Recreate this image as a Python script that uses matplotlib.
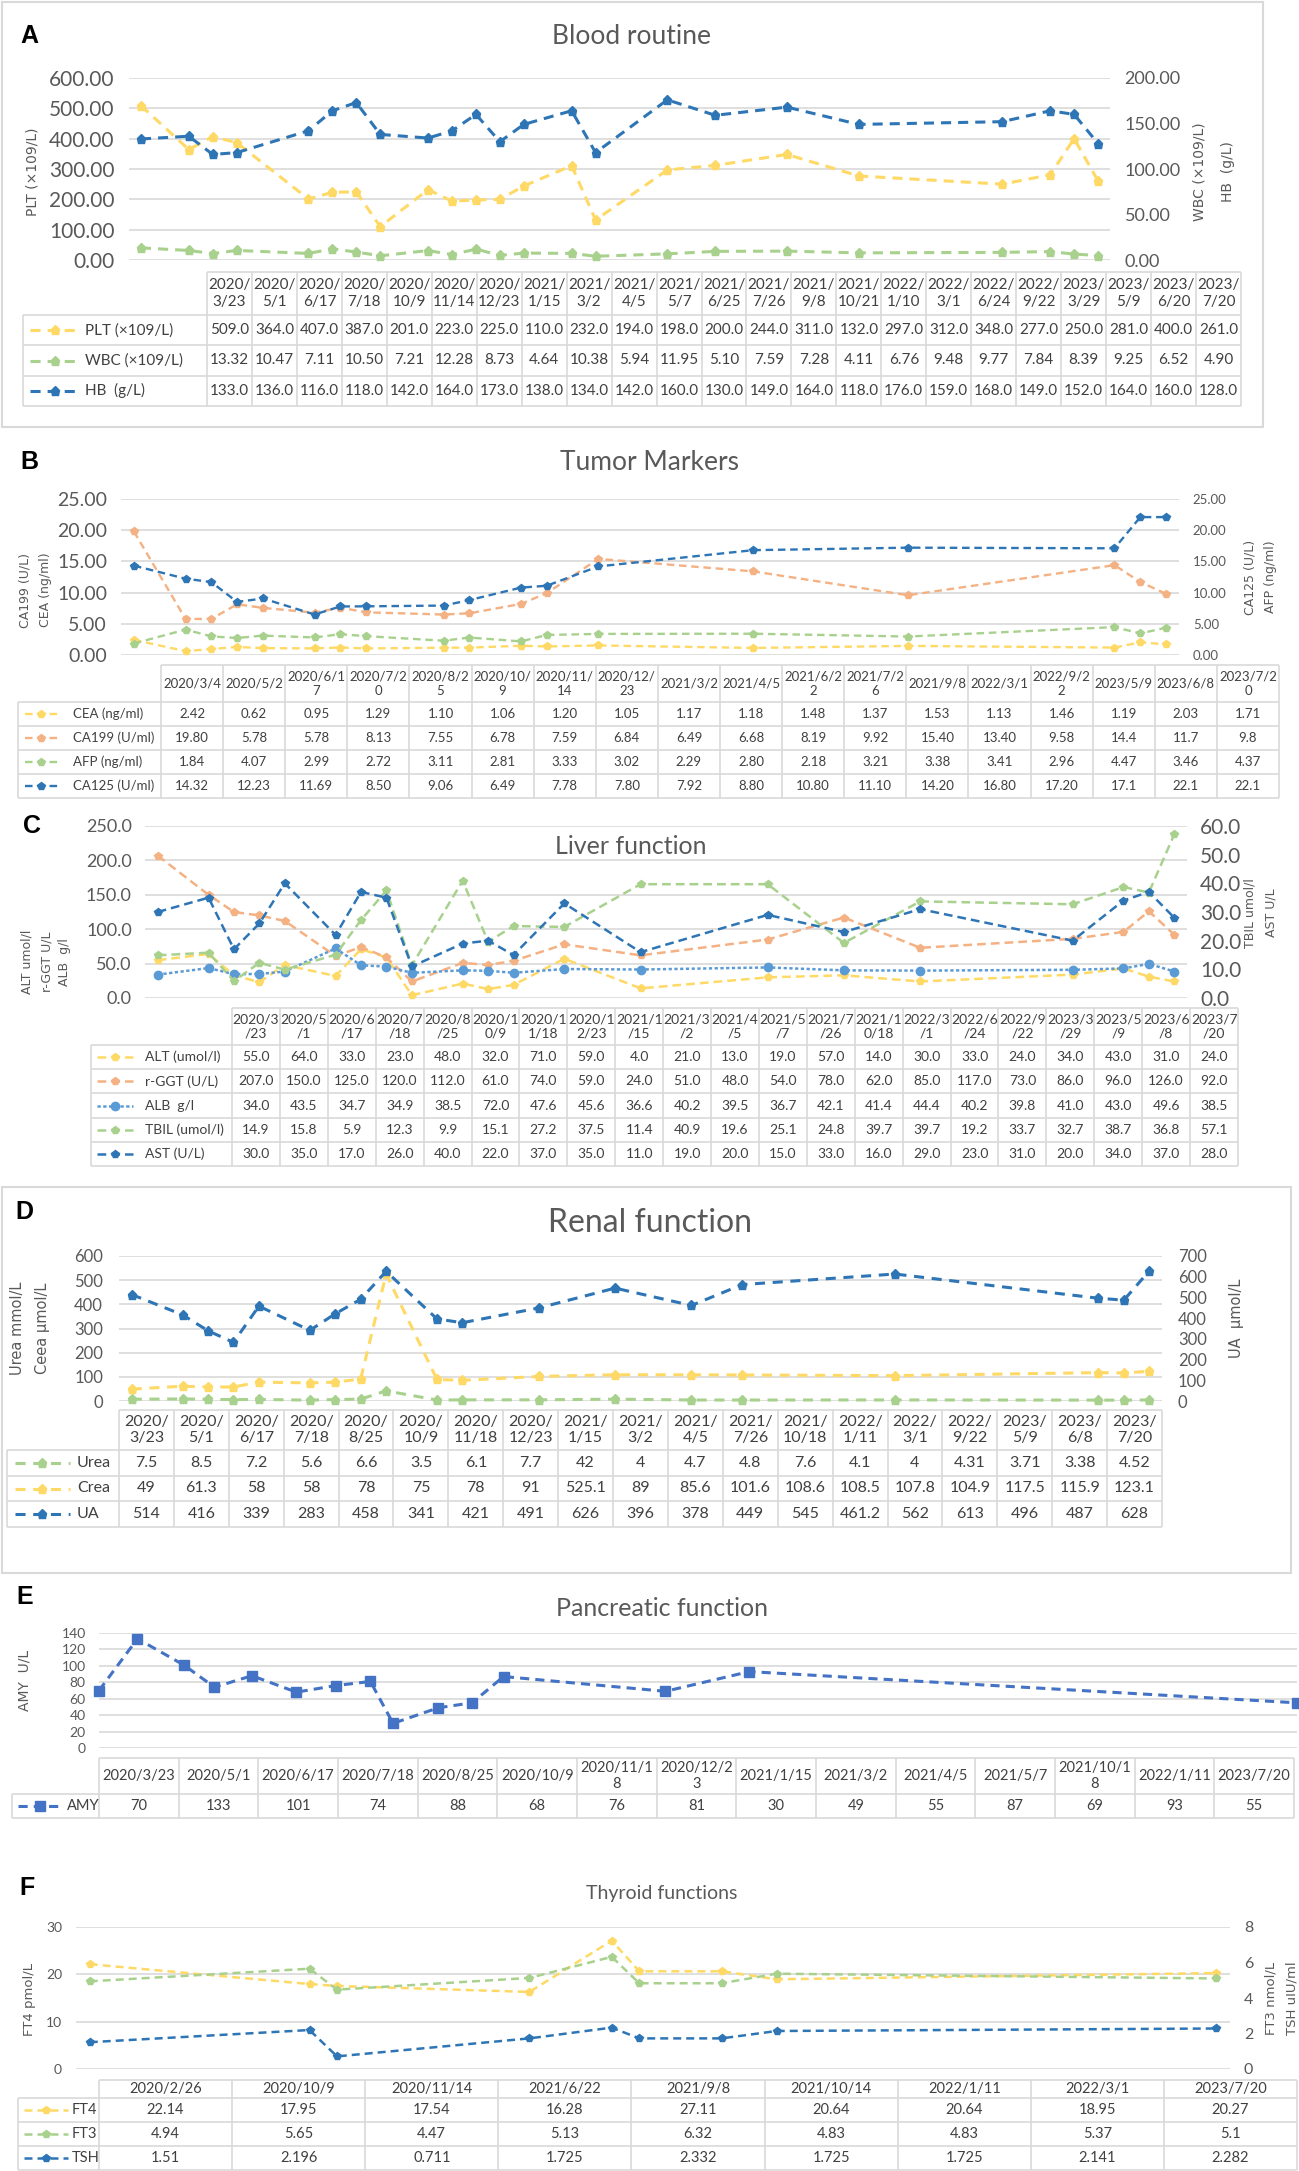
import numpy as np
import pandas as pd
import matplotlib
matplotlib.use("Agg")
import matplotlib.pyplot as plt
from matplotlib.ticker import FormatStrFormatter
from matplotlib.patches import Rectangle

plt.rcParams['font.family'] = ['Lato', 'DejaVu Sans']

# ---------------- data ----------------
# A  Blood routine
a_dates = ["2020/3/23", "2020/5/1", "2020/6/17", "2020/7/18", "2020/10/9", "2020/11/14",
           "2020/12/23", "2021/1/15", "2021/3/2", "2021/4/5", "2021/5/7", "2021/6/25",
           "2021/7/26", "2021/9/8", "2021/10/21", "2022/1/10", "2022/3/1", "2022/6/24",
           "2022/9/22", "2023/3/29", "2023/5/9", "2023/6/20", "2023/7/20"]
a_plt = ["509.0", "364.0", "407.0", "387.0", "201.0", "223.0", "225.0", "110.0", "232.0", "194.0",
         "198.0", "200.0", "244.0", "311.0", "132.0", "297.0", "312.0", "348.0", "277.0", "250.0",
         "281.0", "400.0", "261.0"]
a_wbc = ["13.32", "10.47", "7.11", "10.50", "7.21", "12.28", "8.73", "4.64", "10.38", "5.94",
         "11.95", "5.10", "7.59", "7.28", "4.11", "6.76", "9.48", "9.77", "7.84", "8.39",
         "9.25", "6.52", "4.90"]
a_hb = ["133.0", "136.0", "116.0", "118.0", "142.0", "164.0", "173.0", "138.0", "134.0", "142.0",
        "160.0", "130.0", "149.0", "164.0", "118.0", "176.0", "159.0", "168.0", "149.0", "152.0",
        "164.0", "160.0", "128.0"]

# B  Tumor markers
b_dates = ["2020/3/4", "2020/5/2", "2020/6/17", "2020/7/20", "2020/8/25", "2020/10/9",
           "2020/11/14", "2020/12/23", "2021/3/2", "2021/4/5", "2021/6/22", "2021/7/26",
           "2021/9/8", "2022/3/1", "2022/9/22", "2023/5/9", "2023/6/8", "2023/7/20"]
b_cea = ["2.42", "0.62", "0.95", "1.29", "1.10", "1.06", "1.20", "1.05", "1.17", "1.18",
         "1.48", "1.37", "1.53", "1.13", "1.46", "1.19", "2.03", "1.71"]
b_ca199 = ["19.80", "5.78", "5.78", "8.13", "7.55", "6.78", "7.59", "6.84", "6.49", "6.68",
           "8.19", "9.92", "15.40", "13.40", "9.58", "14.4", "11.7", "9.8"]
b_afp = ["1.84", "4.07", "2.99", "2.72", "3.11", "2.81", "3.33", "3.02", "2.29", "2.80",
         "2.18", "3.21", "3.38", "3.41", "2.96", "4.47", "3.46", "4.37"]
b_ca125 = ["14.32", "12.23", "11.69", "8.50", "9.06", "6.49", "7.78", "7.80", "7.92", "8.80",
           "10.80", "11.10", "14.20", "16.80", "17.20", "17.1", "22.1", "22.1"]

# C  Liver function
c_dates = ["2020/3/23", "2020/5/1", "2020/6/17", "2020/7/18", "2020/8/25", "2020/10/9",
           "2020/11/18", "2020/12/23", "2021/1/15", "2021/3/2", "2021/4/5", "2021/5/7",
           "2021/7/26", "2021/10/18", "2022/3/1", "2022/6/24", "2022/9/22", "2023/3/29",
           "2023/5/9", "2023/6/8", "2023/7/20"]
c_alt = ["55.0", "64.0", "33.0", "23.0", "48.0", "32.0", "71.0", "59.0", "4.0", "21.0", "13.0",
         "19.0", "57.0", "14.0", "30.0", "33.0", "24.0", "34.0", "43.0", "31.0", "24.0"]
c_ggt = ["207.0", "150.0", "125.0", "120.0", "112.0", "61.0", "74.0", "59.0", "24.0", "51.0",
         "48.0", "54.0", "78.0", "62.0", "85.0", "117.0", "73.0", "86.0", "96.0", "126.0", "92.0"]
c_alb = ["34.0", "43.5", "34.7", "34.9", "38.5", "72.0", "47.6", "45.6", "36.6", "40.2", "39.5",
         "36.7", "42.1", "41.4", "44.4", "40.2", "39.8", "41.0", "43.0", "49.6", "38.5"]
c_tbil = ["14.9", "15.8", "5.9", "12.3", "9.9", "15.1", "27.2", "37.5", "11.4", "40.9", "19.6",
          "25.1", "24.8", "39.7", "39.7", "19.2", "33.7", "32.7", "38.7", "36.8", "57.1"]
c_ast = ["30.0", "35.0", "17.0", "26.0", "40.0", "22.0", "37.0", "35.0", "11.0", "19.0", "20.0",
         "15.0", "33.0", "16.0", "29.0", "23.0", "31.0", "20.0", "34.0", "37.0", "28.0"]

# D  Renal function
d_dates = ["2020/3/23", "2020/5/1", "2020/6/17", "2020/7/18", "2020/8/25", "2020/10/9",
           "2020/11/18", "2020/12/23", "2021/1/15", "2021/3/2", "2021/4/5", "2021/7/26",
           "2021/10/18", "2022/1/11", "2022/3/1", "2022/9/22", "2023/5/9", "2023/6/8", "2023/7/20"]
d_urea = ["7.5", "8.5", "7.2", "5.6", "6.6", "3.5", "6.1", "7.7", "42", "4", "4.7", "4.8",
          "7.6", "4.1", "4", "4.31", "3.71", "3.38", "4.52"]
d_crea = ["49", "61.3", "58", "58", "78", "75", "78", "91", "525.1", "89", "85.6", "101.6",
          "108.6", "108.5", "107.8", "104.9", "117.5", "115.9", "123.1"]
d_ua = ["514", "416", "339", "283", "458", "341", "421", "491", "626", "396", "378", "449",
        "545", "461.2", "562", "613", "496", "487", "628"]

# E  Pancreatic function
e_dates = ["2020/3/23", "2020/5/1", "2020/6/17", "2020/7/18", "2020/8/25", "2020/10/9",
           "2020/11/18", "2020/12/23", "2021/1/15", "2021/3/2", "2021/4/5", "2021/5/7",
           "2021/10/18", "2022/1/11", "2023/7/20"]
e_amy = ["70", "133", "101", "74", "88", "68", "76", "81", "30", "49", "55", "87", "69", "93", "55"]

# F  Thyroid functions
f_dates = ["2020/2/26", "2020/10/9", "2020/11/14", "2021/6/22", "2021/9/8", "2021/10/14",
           "2022/1/11", "2022/3/1", "2023/7/20"]
f_ft4 = ["22.14", "17.95", "17.54", "16.28", "27.11", "20.64", "20.64", "18.95", "20.27"]
f_ft3 = ["4.94", "5.65", "4.47", "5.13", "6.32", "4.83", "4.83", "5.37", "5.1"]
f_tsh = ["1.51", "2.196", "0.711", "1.725", "2.332", "1.725", "1.725", "2.141", "2.282"]

# ---------------- styles ----------------
YEL, GRN, BLU, ORG, LBL, EBL = '#FFD966', '#A9D18E', '#2E75B6', '#F4B183', '#5B9BD5', '#4472C4'
GRID, TXT, TAB = '#d9d9d9', '#595959', '#404040'

W, H = 1299, 2171
fig = plt.figure(figsize=(W / 100, H / 100), dpi=100)
ov = fig.add_axes([0, 0, 1, 1])
ov.set_xlim(0, W)
ov.set_ylim(H, 0)
ov.axis('off')


def px_rect(x0, y0, x1, y1):
    return [x0 / W, 1 - y1 / H, (x1 - x0) / W, (y1 - y0) / H]


def month_pos(dates):
    d = pd.to_datetime(dates, format="%Y/%m/%d")
    return np.asarray(d.year * 12 + d.month, dtype=float)


def day_pos(dates):
    d = pd.to_datetime(dates, format="%Y/%m/%d")
    return np.asarray((d - d[0]).days, dtype=float)


def num(vals):
    return np.array(vals, dtype=float)


def wrap(s, n):
    return "\n".join(s[i:i + n] for i in range(0, len(s), n))


def setup_y(ax, top, step, fmt, fs, pad):
    ax.set_ylim(0, top)
    ax.set_yticks(np.arange(0, top + step / 2, step))
    ax.yaxis.set_major_formatter(FormatStrFormatter(fmt))
    ax.tick_params(axis='y', length=0, pad=pad, labelsize=fs, labelcolor=TXT)
    ax.set_xticks([])
    for s in ax.spines.values():
        s.set_visible(False)


def panel(box, xs, margin, left, right=None, fs=10):
    ax = fig.add_axes(px_rect(*box))
    ax.patch.set_visible(False)
    ax.set_xlim(xs[0] - margin, xs[-1] + margin)
    setup_y(ax, *left, fs)
    ax.grid(axis='y', color=GRID, lw=1.2)
    ax.set_axisbelow(True)
    ax2 = None
    if right is not None:
        ax2 = ax.twinx()
        ax2.patch.set_visible(False)
        setup_y(ax2, *right, fs)
        ax2.yaxis.tick_right()
    return ax, ax2


def series(ax, xs, vals, st):
    ax.plot(xs, num(vals), color=st['c'], lw=st['lw'], dashes=st['d'], marker=st['m'],
            ms=st['ms'], mfc=st['c'], mec=st['c'], clip_on=False)


def table(xl, xd, xe, yt, yh, yb, heads, n_wrap, rows, fs, kx, tx):
    n = len(heads)
    cw = (xe - xd) / n
    rh = (yb - yh) / len(rows)
    kw = dict(color=GRID, lw=1.2, solid_capstyle='butt')
    ov.plot([xd, xe], [yt, yt], **kw)
    for i in range(n + 1):
        ov.plot([xd + i * cw] * 2, [yt, yb], **kw)
    ov.plot([xl, xl], [yh, yb], **kw)
    for j in range(len(rows) + 1):
        ov.plot([xl, xe], [yh + j * rh] * 2, **kw)
    for i, h in enumerate(heads):
        ov.text(xd + (i + 0.5) * cw, (yt + yh) / 2, wrap(h, n_wrap), ha='center', va='center',
                fontsize=fs, color=TAB, linespacing=1.25)
    for j, (label, vals, st) in enumerate(rows):
        yc = yh + (j + 0.5) * rh
        ov.plot(kx, [yc, yc], color=st['c'], lw=st['lw'], dashes=st['d'])
        ov.plot([(kx[0] + kx[1]) / 2], [yc], marker=st['m'], ms=st['ms'], color=st['c'], ls='none')
        ov.text(tx, yc, label, ha='left', va='center', fontsize=fs, color=TAB)
        for i, v in enumerate(vals):
            ov.text(xd + (i + 0.5) * cw, yc, v, ha='center', va='center', fontsize=fs, color=TAB)


def vlabel(x, y, s, fs):
    ov.text(x, y, s, rotation=90, ha='center', va='center', fontsize=fs, color=TXT,
            family=['DejaVu Sans'])


def heading(letter, lx, ly, title, tx, ty, tfs):
    ov.text(lx, ly, letter, ha='center', va='center', fontsize=18, fontweight='bold',
            family=['Liberation Sans', 'DejaVu Sans'], color='black')
    ov.text(tx, ty, title, ha='center', va='center', fontsize=tfs, color=TXT)


# panel boxes
ov.add_patch(Rectangle((2, 2), 1261, 425, fill=False, ec=GRID, lw=1.5))
ov.add_patch(Rectangle((2, 1187), 1289, 386, fill=False, ec=GRID, lw=1.5))

# ---------------- A ----------------
sA = dict(lw=2.2, d=(3.3, 2.3), m='p', ms=6.5)
stA = [dict(sA, c=YEL), dict(sA, c=GRN), dict(sA, c=BLU)]
xa = month_pos(a_dates)
heading("A", 29, 36, "Blood routine", 632, 36, 19)
axA, axA2 = panel((129, 78, 1110, 260), xa, 0.5, (600, 100, '%.2f', 15),
                  (200, 50, '%.2f', 13), fs=10.5)
series(axA, xa, a_plt, stA[0])
series(axA2, xa, a_wbc, stA[1])
series(axA2, xa, a_hb, stA[2])
vlabel(33, 172, "PLT (×109/L)", 10)
vlabel(1200, 172, "WBC (×109/L)", 10)
vlabel(1228, 172, "HB  (g/L)", 10)
table(23, 207, 1241, 272, 315, 406, a_dates, 5,
      [("PLT (×109/L)", a_plt, stA[0]), ("WBC (×109/L)", a_wbc, stA[1]), ("HB  (g/L)", a_hb, stA[2])],
      11, (30, 80), 85)

# ---------------- B ----------------
sB = dict(lw=1.7, d=(3.2, 2.0), m='p', ms=6)
stB = [dict(sB, c=YEL), dict(sB, c=ORG), dict(sB, c=GRN), dict(sB, c=BLU)]
xb = month_pos(b_dates)
heading("B", 29, 462, "Tumor Markers", 650, 462, 19)
axB, axB2 = panel((121, 499, 1179, 655), xb, 0.5, (25, 5, '%.2f', 14),
                  (25, 5, '%.2f', 9.5), fs=10)
series(axB, xb, b_cea, stB[0])
series(axB, xb, b_ca199, stB[1])
series(axB2, xb, b_afp, stB[2])
series(axB2, xb, b_ca125, stB[3])
vlabel(25, 590, "CA199 (U/L)", 9)
vlabel(46, 590, "CEA (ng/ml)", 9)
vlabel(1250, 577, "CA125 (U/L)", 9)
vlabel(1271, 577, "AFP (ng/ml)", 9)
table(18, 161, 1279, 665, 702, 798, b_dates, 8,
      [("CEA (ng/ml)", b_cea, stB[0]), ("CA199 (U/ml)", b_ca199, stB[1]),
       ("AFP (ng/ml)", b_afp, stB[2]), ("CA125 (U/ml)", b_ca125, stB[3])],
      9.5, (25, 58), 73)

# ---------------- C ----------------
sC = dict(lw=1.8, d=(3.5, 2.0), m='p', ms=6)
stC = [dict(sC, c=YEL), dict(sC, c=ORG), dict(sC, c=LBL, d=(1.3, 1.0), m='o'),
       dict(sC, c=GRN), dict(sC, c=BLU)]
xc = month_pos(c_dates)
heading("C", 32, 826, "Liver function", 631, 847, 18)
axC, axC2 = panel((145, 826, 1187, 998), xc, 0.5, (250, 50, '%.1f', 13),
                  (60, 10, '%.1f', 15), fs=9.5)
series(axC, xc, c_alt, stC[0])
series(axC, xc, c_ggt, stC[1])
series(axC, xc, c_alb, stC[2])
series(axC2, xc, c_tbil, stC[3])
series(axC2, xc, c_ast, stC[4])
vlabel(27, 962, "ALT umol/l", 9)
vlabel(47, 962, "r-GGT U/L", 9)
vlabel(65, 962, "ALB  g/l", 9)
vlabel(1250, 913, "TBIL umol/l", 9)
vlabel(1271, 913, "AST U/L", 9)
table(91, 232, 1238, 1008, 1045, 1166, c_dates, 6,
      [("ALT (umol/l)", c_alt, stC[0]), ("r-GGT (U/L)", c_ggt, stC[1]), ("ALB  g/l", c_alb, stC[2]),
       ("TBIL (umol/l)", c_tbil, stC[3]), ("AST (U/L)", c_ast, stC[4])],
      10, (97, 133), 145)

# ---------------- D ----------------
sD = dict(lw=2.2, d=(3.3, 2.5), m='p', ms=6.5)
stD = [dict(sD, c=GRN), dict(sD, c=YEL), dict(sD, c=BLU)]
xd = month_pos(d_dates)
heading("D", 24, 1212, "Renal function", 650, 1223, 23)
axD, axD2 = panel((119, 1256, 1162, 1401), xd, 0.5, (600, 100, '%d', 12),
                  (700, 100, '%d', 12), fs=11.5)
series(axD, xd, d_urea, stD[0])
series(axD, xd, d_crea, stD[1])
series(axD2, xd, d_ua, stD[2])
vlabel(18, 1328, "Urea mmol/L", 10.5)
vlabel(43, 1328, "Ceea µmol/L", 10.5)
vlabel(1237, 1318, "UA  µmol/L", 10.5)
table(7, 119, 1162, 1410, 1450, 1527, d_dates, 5,
      [("Urea", d_urea, stD[0]), ("Crea", d_crea, stD[1]), ("UA", d_ua, stD[2])],
      11.5, (15, 70), 77)

# ---------------- E ----------------
sE = dict(lw=2.2, d=(3.0, 2.0), m='s', ms=6.5, c=EBL)
xe = day_pos(e_dates)
heading("E", 25, 1597, "Pancreatic function", 662, 1608, 18)
axE, _ = panel((99, 1633, 1297, 1748), xe, 0, (140, 20, '%d', 10), fs=9.5)
series(axE, xe, e_amy, sE)
vlabel(25, 1680, "AMY  U/L", 10)
table(12, 99, 1294, 1758, 1794, 1818, e_dates, 9, [("AMY", e_amy, sE)], 10.5, (18, 63), 67)

# ---------------- F ----------------
sF = dict(lw=1.8, d=(3.2, 2.0), m='p', ms=6)
stF = [dict(sF, c=YEL), dict(sF, c=GRN), dict(sF, c=BLU)]
xf = month_pos(f_dates)
heading("F", 27, 1888, "Thyroid functions", 662, 1893, 14)
axF, axF2 = panel((76, 1927, 1230, 2069), xf, 0.5, (30, 10, '%d', 10),
                  (8, 2, '%d', 11.5), fs=10)
series(axF, xf, f_ft4, stF[0])
series(axF2, xf, f_ft3, stF[1])
series(axF2, xf, f_tsh, stF[2])
vlabel(30, 2000, "FT4 pmol/L", 9.5)
vlabel(1271, 1998, "FT3 nmol/L", 9.5)
vlabel(1292, 1998, "TSH uIU/ml", 9.5)
table(18, 99, 1297, 2080, 2098, 2170, f_dates, 12,
      [("FT4", f_ft4, stF[0]), ("FT3", f_ft3, stF[1]), ("TSH", f_tsh, stF[2])],
      10.5, (24, 68), 72)

fig.savefig("out.png", dpi=100)
